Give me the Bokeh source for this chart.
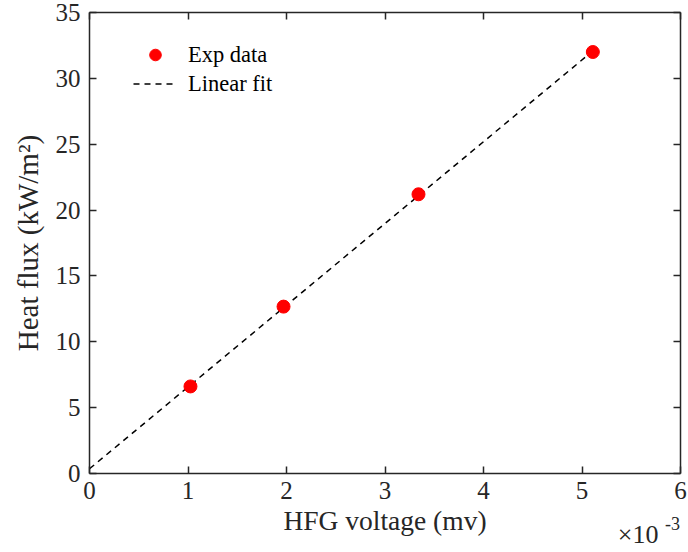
import numpy as np
from bokeh.plotting import figure
from bokeh.models import (Range1d, LinearAxis, FixedTicker, CustomJSTickFormatter,
                          Legend, LegendItem)
from bokeh.embed import file_html
from bokeh.resources import INLINE

# data (HFG voltage in mV, heat flux in kW/m^2)
voltage = [1.025e-3, 1.97e-3, 3.34e-3, 5.11e-3]
heat_flux = [6.61, 12.67, 21.2, 32.0]
fit_x = [0.0, 5.11e-3]
x_ticks = [0, 1e-3, 2e-3, 3e-3, 4e-3, 5e-3, 6e-3]
y_ticks = [0, 5, 10, 15, 20, 25, 30, 35]
exp_base_text = "×10"
exp_power_text = "-3"

coef = np.polyfit(voltage, heat_flux, 1)
fit_y = list(np.polyval(coef, fit_x))

FONT = "Liberation Serif"
AX = "#262626"

p = figure(width=688, height=552, output_backend="svg", toolbar_location=None,
           x_range=Range1d(0, 6e-3), y_range=Range1d(0, 35),
           min_border_left=89, min_border_right=8, min_border_top=12, min_border_bottom=79)
p.outline_line_color = None
p.xgrid.visible = False
p.ygrid.visible = False
p.background_fill_color = "white"
p.border_fill_color = "white"

fmt = CustomJSTickFormatter(code="return (Math.round(tick*1000)).toString();")
blank = CustomJSTickFormatter(code="return '';")

def style(ax, labels=True):
    ax.axis_line_color = AX
    ax.axis_line_width = 1.5
    ax.major_tick_line_color = AX
    ax.major_tick_line_width = 1.5
    ax.major_tick_in = 7
    ax.major_tick_out = 0
    ax.minor_tick_line_color = None
    ax.major_label_text_font = FONT
    ax.major_label_text_color = AX
    ax.axis_label_text_font = FONT
    ax.axis_label_text_font_style = "normal"
    ax.axis_label_text_color = AX
    ax.major_label_text_font_size = "25px"
    ax.axis_label_text_font_size = "27.5px"
    if not labels:
        ax.formatter = blank
        ax.major_label_standoff = 0

xa = p.xaxis[0]
xa.ticker = FixedTicker(ticks=x_ticks)
xa.formatter = fmt
xa.axis_label = "HFG voltage (mv)"
style(xa)
xa.major_label_standoff = 8
xa.axis_label_standoff = 3

ya = p.yaxis[0]
ya.ticker = FixedTicker(ticks=y_ticks)
ya.axis_label = "Heat flux (kW/m²)"
style(ya)
ya.axis_label_text_font_size = "29px"
ya.major_label_standoff = 9
ya.axis_label_standoff = 9

top = LinearAxis(ticker=FixedTicker(ticks=x_ticks))
style(top, labels=False)
p.add_layout(top, "above")
right = LinearAxis(ticker=FixedTicker(ticks=y_ticks))
style(right, labels=False)
p.add_layout(right, "right")

# exponent annotation "×10^-3" drawn as two label-only axes below the x axis
def exp_axis(pos, text, size, standoff):
    ax = LinearAxis(ticker=FixedTicker(ticks=[pos]),
                    major_label_overrides={pos: text})
    ax.axis_line_color = None
    ax.major_tick_line_color = None
    ax.minor_tick_line_color = None
    ax.major_tick_in = 0
    ax.major_tick_out = 0
    ax.major_label_text_font = FONT
    ax.major_label_text_font_size = size
    ax.major_label_text_color = AX
    ax.major_label_standoff = standoff
    return ax

p.add_layout(exp_axis(5.57e-3, exp_base_text, "26px", -19), "below")
p.add_layout(exp_axis(5.92e-3, exp_power_text, "18px", -35), "below")

fit_r = p.line(fit_x, fit_y, line_color="black", line_width=1.5, line_dash="6 5")
pts_r = p.scatter(voltage, heat_flux, size=13, fill_color="red", line_color="red")

legend = Legend(items=[LegendItem(label="Exp data", renderers=[pts_r]),
                       LegendItem(label="Linear fit", renderers=[fit_r])],
                location=(44, 375), orientation="vertical",
                border_line_color=None, background_fill_alpha=0,
                label_text_font=FONT, label_text_font_size="22.5px",
                label_text_color="black",
                glyph_width=44, glyph_height=29, label_height=29,
                label_standoff=11, spacing=0, padding=0, margin=0)
p.add_layout(legend, "center")

open("out.html", "w").write(file_html(p, INLINE))
